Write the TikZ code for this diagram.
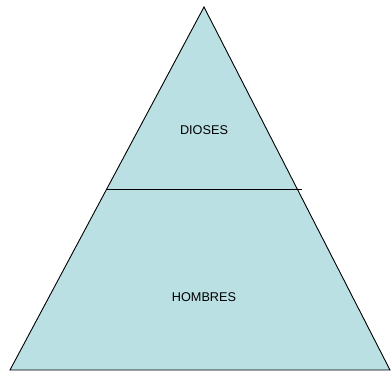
\documentclass[tikz,border=0pt]{standalone}
\usepackage{fontspec}
\setmainfont{Liberation Sans}
\definecolor{pyrfill}{RGB}{187,224,227}
\begin{document}
\begin{tikzpicture}[x=1pt,y=-1pt,
  lbl/.style={font=\fontsize{12.7}{14}\selectfont, text=black, inner sep=0pt},
  edge/.style={draw=black, line width=0.9pt}]
\useasboundingbox (0,0) rectangle (391,372);
\coordinate (apex) at (204,7);
\coordinate (bl) at (10,370);
\coordinate (br) at (390,370);
\coordinate (ml) at (107,189);
\coordinate (mr) at (302,189);
\fill[pyrfill] (apex) -- (br) -- (bl) -- cycle;
\draw[edge, line join=miter] (apex) -- (br) -- (bl) -- cycle;
\draw[edge] (ml) -- (mr);
\node[lbl] (dioses) at (204,130.5) {DIOSES};
\node[lbl] (hombres) at (204,297) {HOMBRES};
\end{tikzpicture}
\end{document}
